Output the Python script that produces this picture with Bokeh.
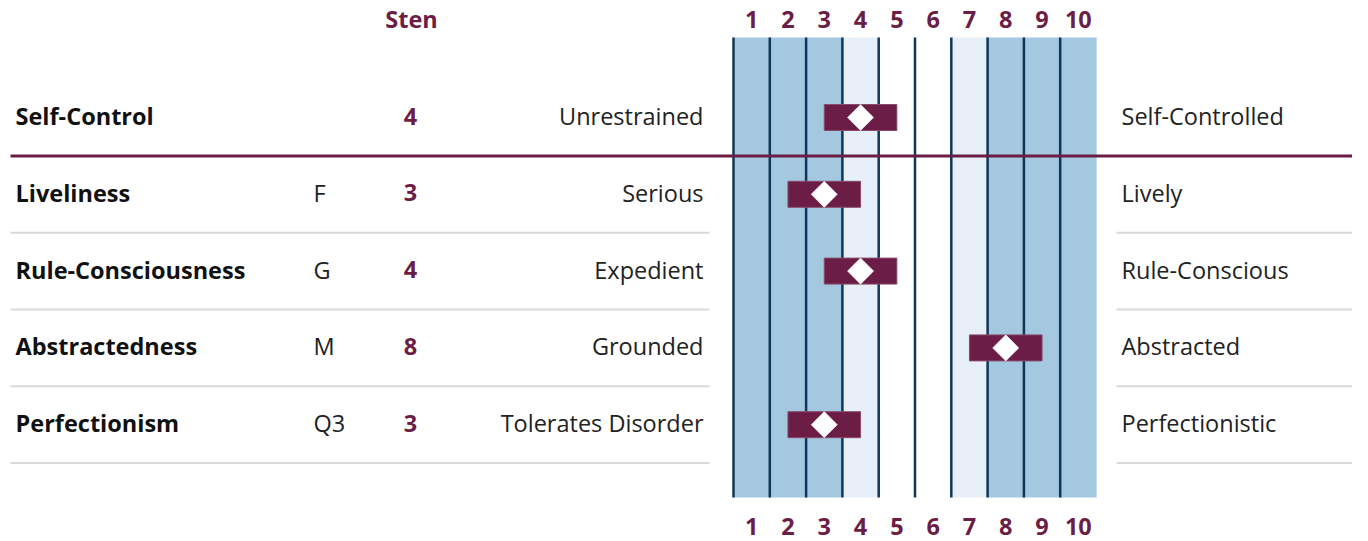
from bokeh.plotting import figure
from bokeh.models import Range1d, ColumnDataSource
from bokeh.core.properties import value
from bokeh.embed import file_html
from bokeh.resources import INLINE

# ---- data ----
factors = ["Self-Control", "Liveliness", "Rule-Consciousness", "Abstractedness", "Perfectionism"]
codes = ["", "F", "G", "M", "Q3"]
stens = [4, 3, 4, 8, 3]
left_poles = ["Unrestrained", "Serious", "Expedient", "Grounded", "Tolerates Disorder"]
right_poles = ["Self-Controlled", "Lively", "Rule-Conscious", "Abstracted", "Perfectionistic"]
sten_scale = [1, 2, 3, 4, 5, 6, 7, 8, 9, 10]
sten_labels = ["1", "2", "3", "4", "5", "6", "7", "8", "9", "10"]
band_kind = ["dark", "dark", "dark", "light", "white", "white", "light", "dark", "dark", "dark"]

# ---- styling ----
PURPLE = "#6b1d45"
NAVY = "#0d3658"
BAND_COLORS = {"dark": "#a5c8e1", "light": "#e7eff8", "white": "#ffffff"}
GRAY = "#d9d9d9"
FONT = "Open Sans"

# pixel helpers (layout only)
UNIT = 36.3
def sx(px):
    return 0.5 + (px - 733) / UNIT
ROW = 76.8
def ry(py):
    return (py - 117) / ROW

W, H = 1352, 541
p = figure(width=W, height=H, x_range=Range1d(sx(0), sx(W)), y_range=Range1d(ry(H), ry(0)),
           output_backend="svg", toolbar_location=None, x_axis_type=None, y_axis_type=None,
           min_border=0)
p.grid.visible = False
p.outline_line_color = None
p.background_fill_color = "white"

n = len(factors)
rows = list(range(n))
bh = 26 / ROW / 2
TY = -1.5 / ROW  # small text baseline nudge

# bands
band_top, band_bottom = ry(37), ry(497)
p.quad(left=[s - 0.5 for s in sten_scale], right=[s + 0.5 for s in sten_scale],
       top=band_top, bottom=band_bottom,
       fill_color=[BAND_COLORS[k] for k in band_kind], line_color=None)
p.segment(x0=[sten_scale[-1] + 0.5], x1=[sten_scale[-1] + 0.5], y0=band_top, y1=band_bottom,
          line_color="#c9dbe9", line_width=1)
p.segment(x0=[s - 0.5 for s in sten_scale], x1=[s - 0.5 for s in sten_scale],
          y0=band_top, y1=band_bottom, line_color=NAVY, line_width=2.5)

# separators
p.segment(x0=[sx(10), sx(1116)] * (n - 1), x1=[sx(709), sx(1368)] * (n - 1),
          y0=[r + 0.5 for r in rows[1:] for _ in range(2)],
          y1=[r + 0.5 for r in rows[1:] for _ in range(2)],
          line_color=GRAY, line_width=2)
p.segment(x0=[sx(10)], x1=[sx(1368)], y0=[0.5], y1=[0.5], line_color=PURPLE, line_width=3)

# bars + diamonds
src = ColumnDataSource(dict(row=rows, trow=[r + TY for r in rows], sten=stens,
                            lo=[s - 1 for s in stens], hi=[s + 1 for s in stens],
                            top=[r - bh for r in rows], bot=[r + bh for r in rows],
                            factor=factors, code=codes, stxt=[str(s) for s in stens],
                            lp=left_poles, rp=right_poles))
p.quad(left="lo", right="hi", top="top", bottom="bot",
       source=src, fill_color=PURPLE, line_color="#8a4a6a", line_width=1)
p.scatter(x="sten", y="row", source=src, marker="square", angle=0.7853981634, size=18.5,
          fill_color="white", line_color="white", line_width=0.5)

# texts
common = dict(text_font=value(FONT), text_font_size="23.5px", text_baseline="middle")
p.text(x=sx(15), y="trow", text="factor", source=src, text_font_style="bold", text_color="#111111",
       text_align="left", **common)
p.text(x=sx(313), y="trow", text="code", source=src, text_color="#222222", text_align="left", **common)
p.text(x=sx(410), y="trow", text="stxt", source=src, text_font_style="bold", text_color=PURPLE,
       text_align="center", **common)
p.text(x=sx(703), y="trow", text="lp", source=src, text_color="#222222", text_align="right", **common)
p.text(x=sx(1121), y="trow", text="rp", source=src, text_color="#222222", text_align="left", **common)

p.text(x=[sx(411)], y=[ry(18)], text=["Sten"], text_font_style="bold", text_color=PURPLE,
       text_align="center", **common)
for yy in (ry(19), ry(526)):
    p.text(x=sten_scale, y=[yy] * len(sten_scale), text=sten_labels, text_font_style="bold",
           text_color=PURPLE, text_align="center", **common)

open("out.html", "w").write(file_html(p, INLINE))
